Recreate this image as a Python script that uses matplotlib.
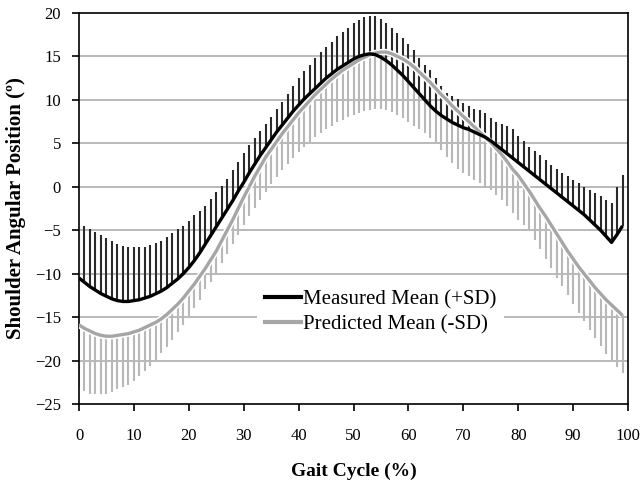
import numpy as np
import matplotlib
matplotlib.use("Agg")
import matplotlib.pyplot as plt
import matplotlib.patheffects as pe
from matplotlib.lines import Line2D

gait_cycle = list(range(0, 100))

measured_mean = [
    -10.5, -11.0, -11.5, -11.9, -12.3, -12.6, -12.9, -13.1, -13.2, -13.2,
    -13.1, -13.0, -12.8, -12.6, -12.3, -12.0, -11.6, -11.1, -10.6, -10.0,
    -9.3, -8.5, -7.6, -6.6, -5.6, -4.6, -3.6, -2.6, -1.6, -0.5,
    0.5, 1.6, 2.6, 3.6, 4.5, 5.4, 6.3, 7.1, 7.9, 8.7,
    9.4, 10.1, 10.7, 11.3, 11.9, 12.5, 13.0, 13.5, 13.9, 14.3,
    14.7, 15.0, 15.2, 15.3, 15.2, 14.9, 14.5, 14.0, 13.4, 12.8,
    12.1, 11.4, 10.7, 10.0, 9.3, 8.7, 8.2, 7.8, 7.4, 7.1,
    6.8, 6.6, 6.3, 6.0, 5.7, 5.3, 4.8, 4.3, 3.8, 3.3,
    2.8, 2.3, 1.8, 1.3, 0.8, 0.3, -0.2, -0.7, -1.2, -1.7,
    -2.2, -2.7, -3.2, -3.8, -4.4, -5.0, -5.7, -6.4, -5.5, -4.5,
]

measured_upper = [
    -4.5, -4.5, -4.9, -5.2, -5.6, -5.9, -6.2, -6.6, -6.8, -6.9,
    -6.9, -6.9, -6.9, -6.7, -6.5, -6.2, -5.8, -5.3, -4.9, -4.5,
    -3.9, -3.3, -2.8, -2.2, -1.4, -0.65, 0.1, 0.95, 1.9, 2.9,
    3.9, 4.8, 5.6, 6.4, 7.2, 8.0, 8.9, 9.8, 10.7, 11.6,
    12.5, 13.3, 14.0, 14.8, 15.5, 16.1, 16.7, 17.3, 17.8, 18.3,
    18.8, 19.2, 19.5, 19.7, 19.6, 19.3, 18.9, 18.3, 17.7, 17.1,
    16.4, 15.7, 14.8, 14.0, 13.4, 12.5, 11.6, 10.8, 10.5, 10.1,
    9.6, 9.3, 9.0, 8.8, 8.5, 7.9, 7.5, 7.2, 7.0, 6.6,
    5.9, 5.3, 4.6, 4.1, 3.6, 3.1, 2.5, 2.1, 1.6, 1.2,
    0.8, 0.4, 0.0, -0.4, -0.7, -1.1, -1.5, -1.9, 0.0, 1.3,
]

predicted_mean = [
    -15.9, -16.3, -16.6, -16.9, -17.1, -17.2, -17.2, -17.1, -17.0, -16.9,
    -16.7, -16.5, -16.2, -15.9, -15.6, -15.2, -14.7, -14.1, -13.5, -12.8,
    -12.0, -11.2, -10.3, -9.4, -8.4, -7.4, -6.2, -5.0, -3.8, -2.5,
    -1.2, 0.0, 1.2, 2.3, 3.4, 4.3, 5.2, 6.1, 6.9, 7.7,
    8.5, 9.2, 9.9, 10.6, 11.2, 11.8, 12.4, 12.9, 13.4, 13.8,
    14.2, 14.6, 14.9, 15.2, 15.4, 15.5, 15.5, 15.3, 15.0, 14.7,
    14.3, 13.8, 13.2, 12.6, 12.0, 11.3, 10.6, 10.0, 9.3, 8.7,
    8.1, 7.5, 6.9, 6.3, 5.7, 5.1, 4.4, 3.7, 2.9, 2.0,
    1.3, 0.4, -0.5, -1.5, -2.5, -3.4, -4.4, -5.4, -6.4, -7.4,
    -8.3, -9.2, -10.0, -10.8, -11.6, -12.3, -13.0, -13.6, -14.2, -14.8,
]

predicted_lower = [
    -23.0, -23.5, -23.8, -23.9, -23.9, -23.8, -23.6, -23.3, -23.1, -22.8,
    -22.4, -21.8, -21.2, -20.6, -19.9, -19.1, -18.4, -17.6, -16.7, -15.9,
    -14.9, -13.9, -13.0, -11.8, -11.0, -9.9, -8.8, -7.7, -6.6, -5.5,
    -4.4, -3.4, -2.4, -1.5, -0.6, 0.3, 1.1, 1.9, 2.6, 3.3,
    4.0, 4.6, 5.2, 5.7, 6.2, 6.6, 7.0, 7.4, 7.7, 8.0,
    8.3, 8.5, 8.7, 8.8, 8.9, 8.9, 8.8, 8.6, 8.3, 7.9,
    7.5, 7.0, 6.6, 6.2, 5.6, 5.0, 4.2, 3.4, 2.7, 2.1,
    1.6, 1.2, 0.8, 0.4, 0.0, -0.4, -0.9, -1.5, -2.2, -3.0,
    -3.8, -4.4, -5.1, -6.1, -7.2, -8.3, -9.4, -10.5, -11.4, -12.5,
    -13.5, -14.5, -15.5, -16.5, -17.4, -18.3, -19.2, -20.0, -20.7, -21.4,
]

series_labels = ["Measured Mean (+SD)", "Predicted Mean (-SD)"]
x_ticks = [0, 10, 20, 30, 40, 50, 60, 70, 80, 90, 100]
y_ticks = [-25, -20, -15, -10, -5, 0, 5, 10, 15, 20]

plt.rcParams["font.family"] = ["Liberation Serif", "DejaVu Serif"]

fig = plt.figure(figsize=(6.4, 4.87), dpi=100)
ax = fig.add_axes([79 / 640, 1 - 404 / 487, (628 - 79) / 640, (404 - 13) / 487])

x = np.array(gait_cycle, dtype=float)
mm = np.array(measured_mean)
mu = np.array(measured_upper)
pm = np.array(predicted_mean)
pl = np.array(predicted_lower)

for yv in y_ticks[1:-1]:
    ax.axhline(yv, color="#b4b4b4", lw=1.3, zorder=1)

ax.vlines(x, pl, pm, colors="#b8b8b8", lw=1.5, zorder=2)
ax.vlines(x, mm, mu, colors="#2a2a2a", lw=1.5, zorder=3)

halo = [pe.Stroke(linewidth=4.6, foreground="white"), pe.Normal()]
ax.plot(x, pm, color="#a6a6a6", lw=2.4, zorder=4, path_effects=halo,
        solid_capstyle="butt")
ax.plot(x, mm, color="black", lw=2.4, zorder=5, solid_capstyle="butt")

ax.set_xlim(0, 100)
ax.set_ylim(-25, 20)
ax.set_xticks(x_ticks)
ax.set_yticks(y_ticks)
ax.tick_params(direction="out", length=5, width=1.2, labelsize=12, pad=12)
ax.tick_params(axis="y", pad=8)
for s in ax.spines.values():
    s.set_linewidth(1.2)

ax.set_xlabel("Gait Cycle (%)", fontsize=14, fontweight="bold", labelpad=14)
ax.set_ylabel("Shoulder Angular Position (º)", fontsize=15, fontweight="bold", labelpad=6)

handles = [Line2D([], [], color="black", lw=3), Line2D([], [], color="#a6a6a6", lw=3)]
leg = ax.legend(handles, series_labels, loc="center left", bbox_to_anchor=(0.305, 0.235),
                frameon=True, fontsize=15, handlelength=1.7, handletextpad=0.1,
                labelspacing=0.25, borderpad=0.4, fancybox=False, framealpha=1.0)
leg.get_frame().set_edgecolor("white")
leg.get_frame().set_linewidth(0)
leg.set_zorder(10)

fig.savefig("out.png", dpi=100)
